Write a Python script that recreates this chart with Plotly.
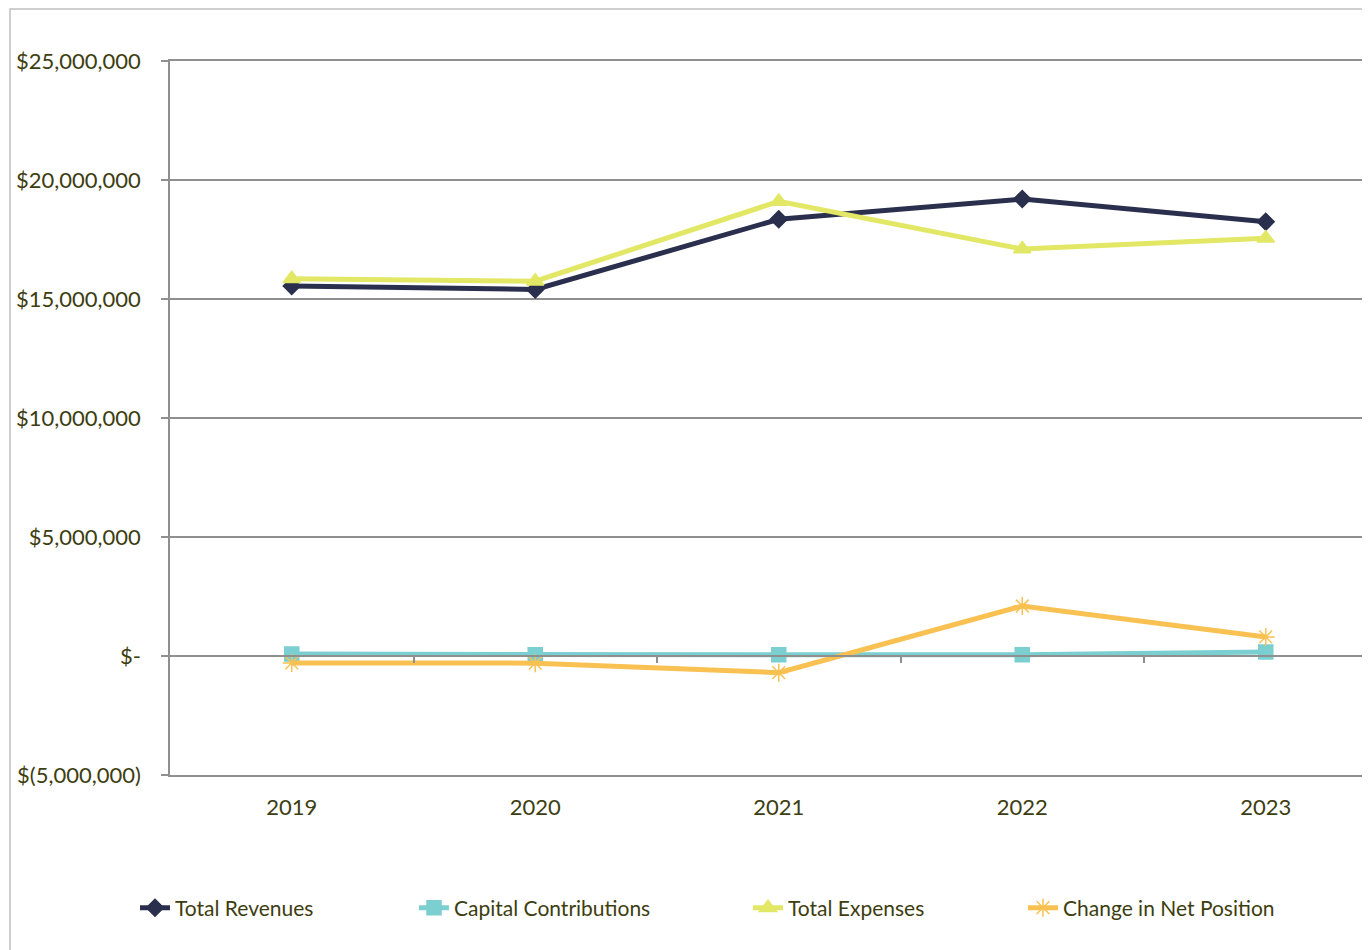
import plotly.graph_objects as go

years = ["2019", "2020", "2021", "2022", "2023"]
total_revenues = [15550000, 15400000, 18350000, 19200000, 18250000]
capital_contributions = [80000, 50000, 50000, 50000, 170000]
total_expenses = [15850000, 15750000, 19100000, 17100000, 17550000]
change_net_position = [-290000, -300000, -700000, 2100000, 800000]

y_tickvals = [-5000000, 0, 5000000, 10000000, 15000000, 20000000, 25000000]
y_ticktext = ["$(5,000,000)", "$-", "$5,000,000", "$10,000,000", "$15,000,000", "$20,000,000", "$25,000,000"]

TXT = "#3d3d10"
GRID = "#8f8f8f"
FONT = "Lato"

series = [
    ("Total Revenues", total_revenues, "#2b2f4e", "diamond", 13, "legend"),
    ("Capital Contributions", capital_contributions, "#7ccfd0", "square", 14, "legend2"),
    ("Total Expenses", total_expenses, "#e2e865", "triangle-up", 15, "legend3"),
    ("Change in Net Position", change_net_position, "#f9c152", "asterisk-open", 15, "legend4"),
]

fig = go.Figure()
for name, vals, color, sym, size, lg in series:
    fig.add_trace(go.Scatter(
        x=years, y=vals, name=name, mode="lines+markers",
        line=dict(color=color, width=5),
        marker=dict(symbol=sym, size=size, color=color, line=dict(color=color, width=1.5)),
        legend=lg,
    ))

OFF = 8  # page body margin
W, H = 1370 - OFF, 950 - OFF
L, T, B = 170 - OFF, 61 - OFF, 175
plot_w = 1370 - 170
plot_h = 775 - 61

def px_x(x):
    return (x - 170) / plot_w

def px_y(y):
    return (775 - y) / plot_h

legend_common = dict(orientation="h", yanchor="middle", xanchor="left",
                     font=dict(family=FONT, size=21, color=TXT), bgcolor="rgba(0,0,0,0)")
leg_x = [135, 414, 748, 1023]
legends = {}
for i, key in enumerate(["legend", "legend2", "legend3", "legend4"]):
    legends[key] = dict(legend_common, x=px_x(leg_x[i]), y=px_y(908))

right_range = -0.5 + plot_w / 243.5

fig.update_layout(
    width=W, height=H,
    margin=dict(l=L, r=0, t=T, b=B, autoexpand=False),
    paper_bgcolor="white", plot_bgcolor="white",
    showlegend=True,
    font=dict(family=FONT, size=21, color=TXT),
    xaxis=dict(type="category", range=[-0.5, right_range], showgrid=False,
               showline=True, mirror=True, linecolor=GRID, linewidth=1.5,
               ticks="", zeroline=False, ticklabelstandoff=12,
               tickfont=dict(family=FONT, size=22, color=TXT)),
    xaxis2=dict(overlaying="x", anchor="free", position=px_y(656), range=[-0.5, right_range],
                showline=True, linecolor=GRID, linewidth=1.5, ticks="outside", ticklen=6,
                tickcolor=GRID, tickwidth=1.5, tickvals=[0.5, 1.5, 2.5, 3.5],
                showticklabels=False, showgrid=False, zeroline=False),
    yaxis=dict(range=[-5000000, 25000000], tickvals=y_tickvals, ticktext=y_ticktext,
               showgrid=True, gridcolor=GRID, gridwidth=1.5, zeroline=False,
               showline=True, linecolor=GRID, linewidth=1.5,
               ticks="outside", ticklen=7, tickcolor=GRID, tickwidth=1.5,
               ticklabelstandoff=16,
               tickfont=dict(family=FONT, size=22, color=TXT)),
    shapes=[dict(type="rect", xref="paper", yref="paper",
                 x0=px_x(10), x1=px_x(1400), y0=px_y(1000), y1=px_y(9),
                 line=dict(color="#bfbfbf", width=1.5), layer="below")],
    **legends,
)
fig.add_trace(go.Scatter(x=[None], y=[None], xaxis="x2", showlegend=False, hoverinfo="skip"))

fig.write_html("out.html")
